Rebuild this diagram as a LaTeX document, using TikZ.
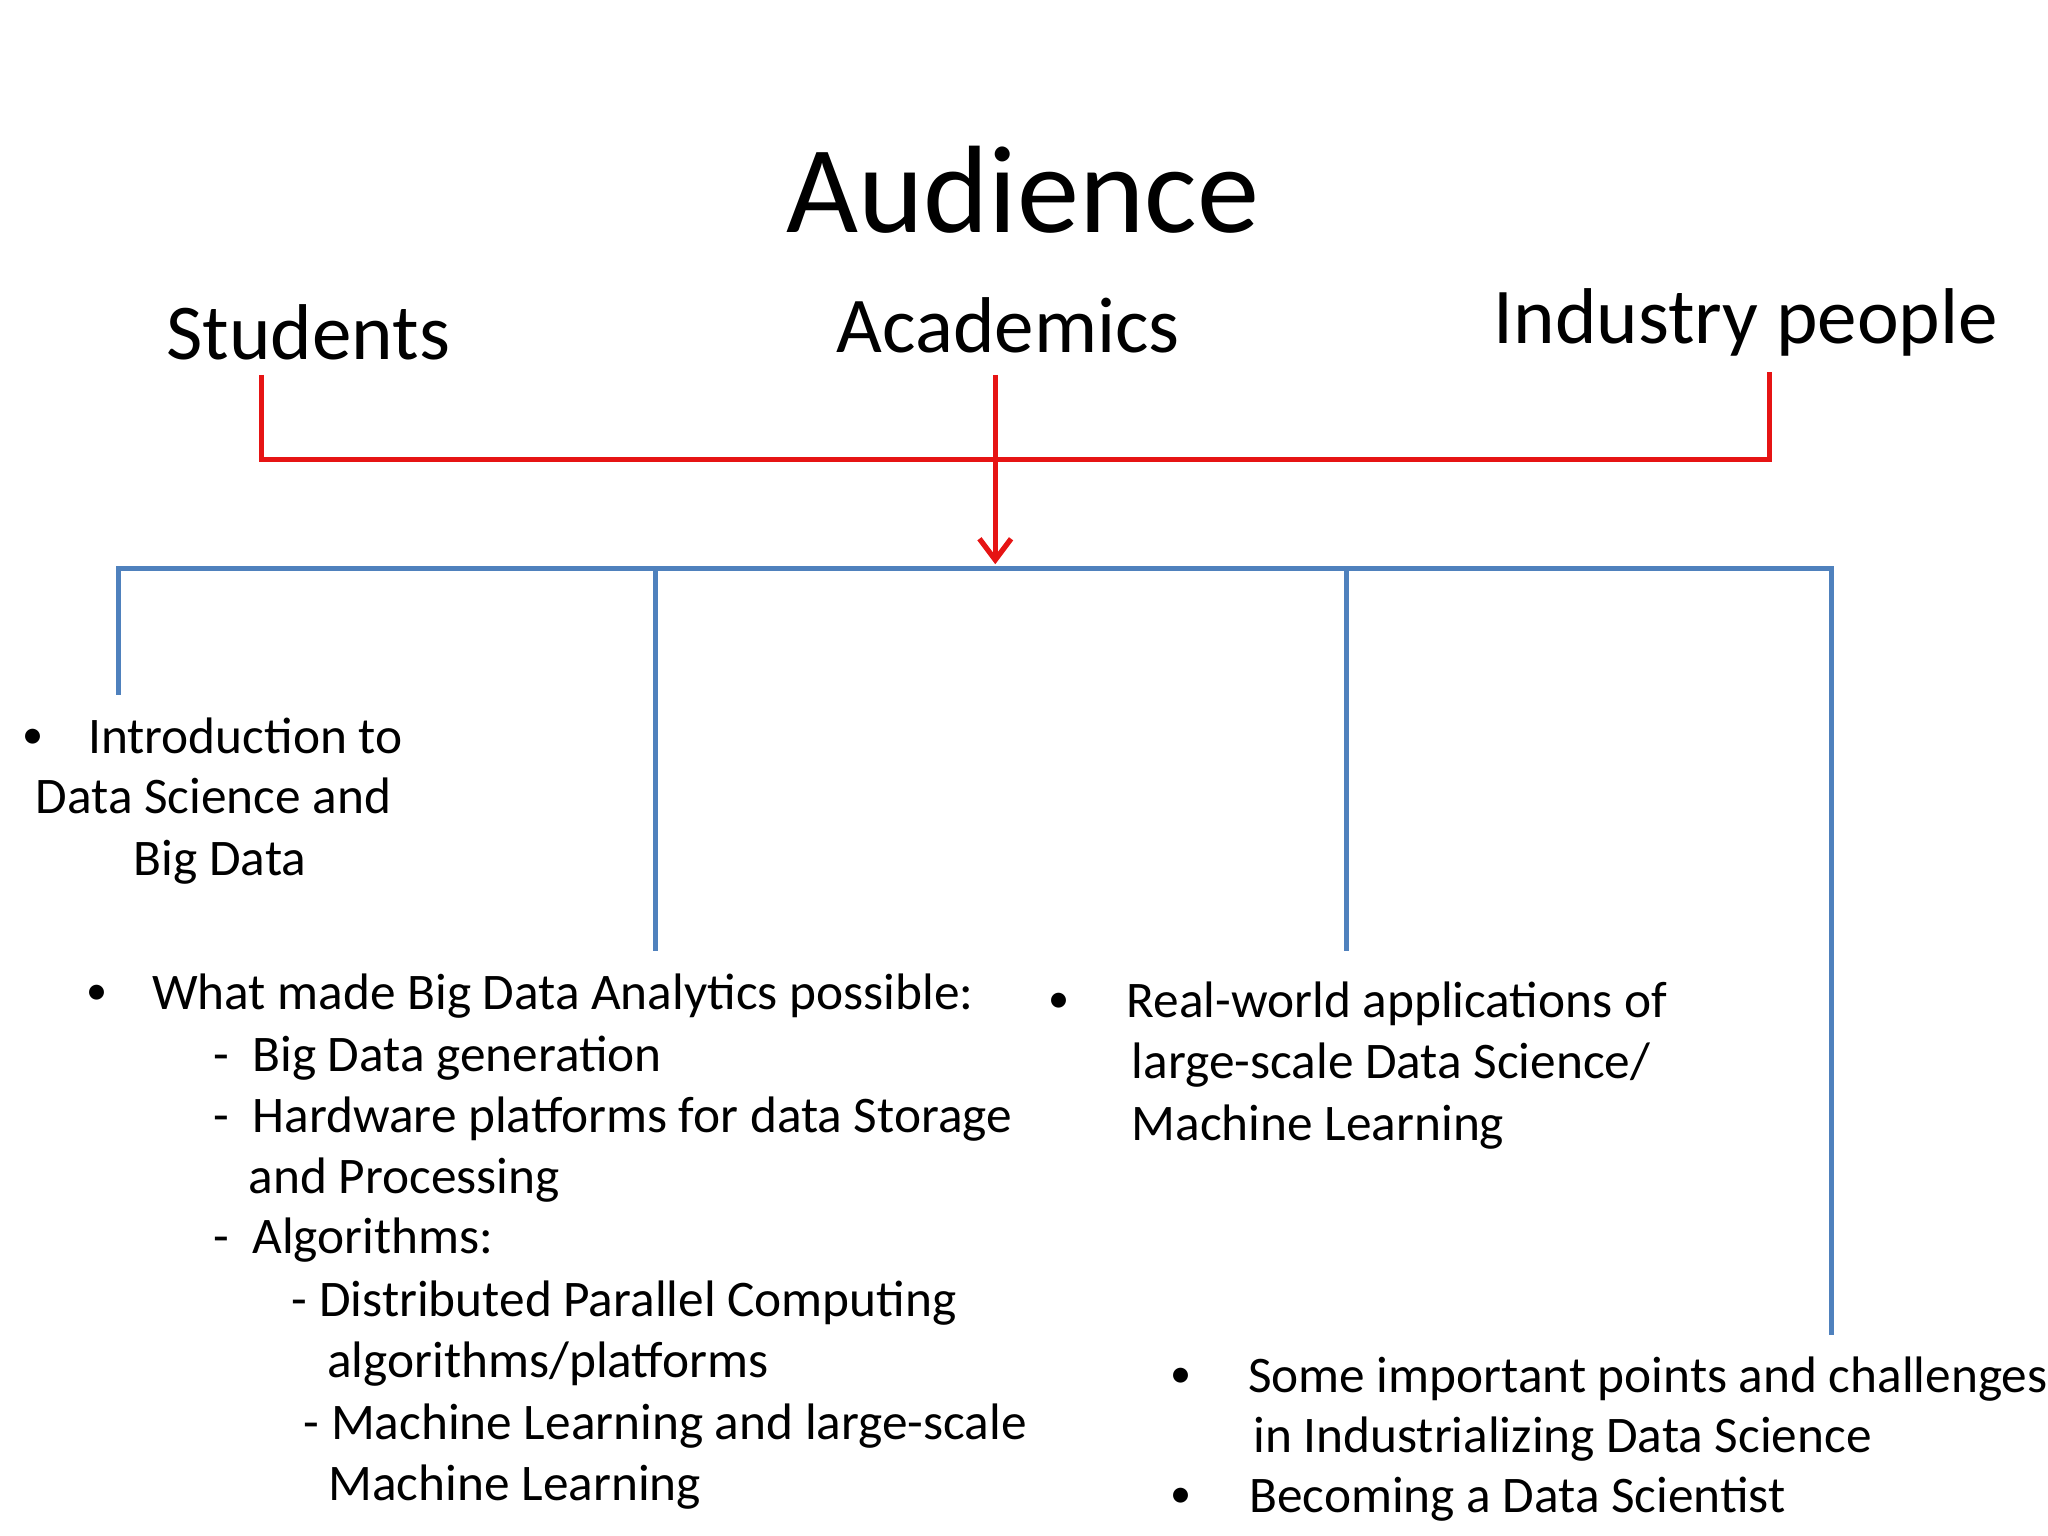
\documentclass[tikz,border=0pt]{standalone}
\usepackage{fontspec}
\setmainfont{Carlito}
\usetikzlibrary{arrows.meta}
\begin{document}
\begin{tikzpicture}[x=0.01306cm,y=-0.01306cm,
  t/.style={inner sep=0pt,anchor=base west,font=\fontsize{14.6pt}{17pt}\selectfont},
  bu/.style={inner sep=0pt,anchor=base west,font=\fontsize{12pt}{14pt}\selectfont},
  h/.style={inner sep=0pt,anchor=base west,font=\fontsize{22.5pt}{26pt}\selectfont},
  red line/.style={draw={rgb,255:red,230;green,20;blue,20},line width=1.5pt},
  blue line/.style={draw={rgb,255:red,79;green,129;blue,189},line width=1.5pt}]
\useasboundingbox (0,0) rectangle (1568,1176);
\node[inner sep=0pt,anchor=base,font=\fontsize{35.4pt}{40pt}\selectfont] (aud) at (783,178) {Audience};
\node[h] (stu) at (127,275) {Students};
\node[h] (aca) at (640,270) {Academics};
\node[h] (ind) at (1143,263) {Industry people};
% red connectors
\coordinate (s1) at (200,287); \coordinate (s2) at (200,352);
\coordinate (i1) at (1355,285); \coordinate (i2) at (1355,352);
\coordinate (a1) at (762,287); \coordinate (a2) at (762,432);
\draw[red line] (s1) -- (s2) -- (i2) -- (i1);
\draw[red line,-{Straight Barb[length=6pt,width=9pt]}] (a1) -- (a2);
% blue tree
\coordinate (bl) at (91,435); \coordinate (br) at (1402,435);
\coordinate (b1) at (91,532); \coordinate (b2t) at (502,435); \coordinate (b2) at (502,728);
\coordinate (b3t) at (1031,435); \coordinate (b3) at (1031,728); \coordinate (b4) at (1402,1022);
\draw[blue line] (b1) -- (bl) -- (br) -- (b4);
\draw[blue line] (b2t) -- (b2);
\draw[blue line] (b3t) -- (b3);
% students list
\node[bu] (sb) at (17,573) {•};
\node[t] (s1t) at (67,577) {Introduction to};
\node[t] (s2t) at (27,623) {Data Science and};
\node[t] (s3t) at (102,670) {Big Data};
% middle list
\node[bu] (mb) at (66,769) {•};
\node[t] (m1) at (116,773) {What made Big Data Analytics possible:};
\node[t] (m2) at (163,820) {-\ \ Big Data generation};
\node[t] (m3) at (163,867) {-\ \ Hardware platforms for data Storage};
\node[t] (m4) at (190,914) {and Processing};
\node[t] (m5) at (163,960) {-\ \ Algorithms:};
\node[t] (m6) at (223,1008) {- Distributed Parallel Computing};
\node[t] (m7) at (250,1055) {algorithms/platforms};
\node[t] (m8) at (232,1102) {- Machine Learning and large-scale};
\node[t] (m9) at (251,1149) {Machine Learning};
% right list
\node[bu] (rb) at (802,775) {•};
\node[t] (r1) at (862,779) {Real-world applications of};
\node[t] (r2) at (866,826) {large-scale Data Science/};
\node[t] (r3) at (866,873) {Machine Learning};
% bottom right list
\node[bu] (pb1) at (896,1062) {•};
\node[t] (p1) at (955,1066) {Some important points and challenges};
\node[t] (p2) at (959,1112) {in Industrializing Data Science};
\node[bu] (pb2) at (896,1154) {•};
\node[t] (p3) at (956,1158) {Becoming a Data Scientist};
\end{tikzpicture}
\end{document}
